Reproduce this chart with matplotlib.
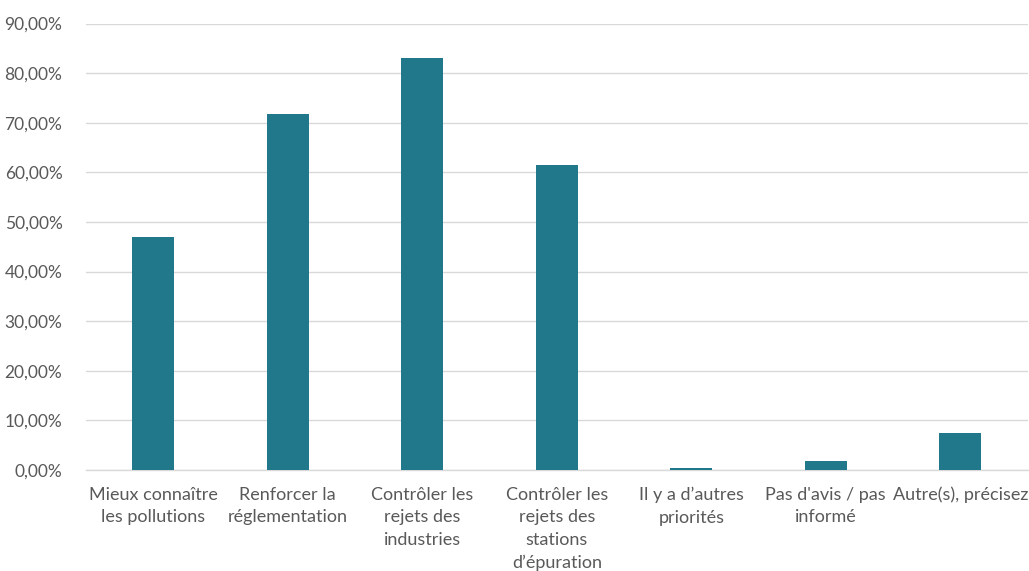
import matplotlib
matplotlib.use("Agg")
import matplotlib.pyplot as plt
from matplotlib.ticker import FuncFormatter, MultipleLocator

categories = [
    "Mieux connaître\nles pollutions",
    "Renforcer la\nréglementation",
    "Contrôler les\nrejets des\nindustries",
    "Contrôler les\nrejets des\nstations\nd’épuration",
    "Il y a d’autres\npriorités",
    "Pas d'avis / pas\ninformé",
    "Autre(s), précisez",
]
values = [0.470, 0.717, 0.830, 0.615, 0.005, 0.0175, 0.074]

plt.rcParams['font.family'] = ['Lato', 'DejaVu Sans']
text_color = "#595959"
bar_color = "#21788A"

fig = plt.figure(figsize=(10.29, 5.71), dpi=100)
ax = fig.add_axes([0.0836, 0.1769, 0.915, 0.7819])

x = range(len(categories))
ax.bar(x, values, width=0.31, color=bar_color, zorder=3)

ax.set_ylim(0, 0.9)
ax.set_xlim(-0.5, len(categories) - 0.5)
ax.yaxis.set_major_locator(MultipleLocator(0.1))
ax.yaxis.set_major_formatter(FuncFormatter(lambda v, p: f"{v*100:.2f}%".replace(".", ",")))
ax.grid(axis='y', color="#D9D9D9", linewidth=1.0, zorder=0)
ax.set_axisbelow(True)

for s in ["top", "right", "left"]:
    ax.spines[s].set_visible(False)
ax.spines["bottom"].set_color("#D9D9D9")
ax.spines["bottom"].set_linewidth(1.0)

ax.set_xticks(list(x))
ax.set_xticklabels(categories, fontsize=13, color=text_color, linespacing=1.5)
ax.tick_params(axis='x', length=0, pad=12)
ax.tick_params(axis='y', length=0, pad=17, labelsize=12.5, labelcolor=text_color)

fig.savefig("out.png", dpi=100)
